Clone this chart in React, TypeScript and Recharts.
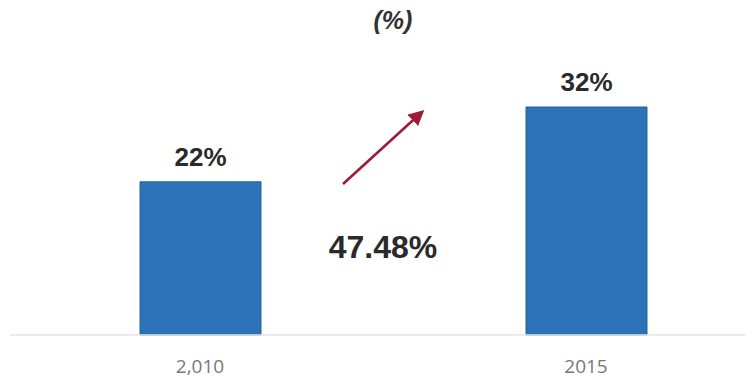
import React from 'react'
import { BarChart, Bar, XAxis, YAxis, LabelList } from 'recharts'

const years = ['2,010', '2015']
const shares = [21.5, 32]
const growthLabel = '47.48%'
const unitTitle = '(%)'

const data = years.map((year, i) => ({ year, share: shares[i] }))

const W = 754
const H = 380

export default function App() {
  return (
    <div style={{ position: 'fixed', left: 0, top: 0, width: W, height: H, background: '#fff', overflow: 'hidden' }}>
      <div
        style={{
          position: 'absolute',
          left: 0,
          width: W,
          top: 6,
          textAlign: 'center',
          fontFamily: '"Liberation Sans", Arial, sans-serif',
          fontStyle: 'italic',
          fontWeight: 600,
          fontSize: 25,
          color: '#333',
          paddingLeft: 32,
          boxSizing: 'border-box',
        }}
      >
        {unitTitle}
      </div>
      <BarChart
        width={W}
        height={H}
        data={data}
        margin={{ top: 50, right: 9, left: 10, bottom: 0 }}
        style={{ position: 'absolute', left: 0, top: 0 }}
      >
        <XAxis
          dataKey="year"
          padding={{ left: -3, right: -34 }}
          axisLine={{ stroke: '#e4e4e4', strokeWidth: 1.5 }}
          tickLine={false}
          tickSize={0}
          tickMargin={25}
          height={45}
          tick={{ fill: '#777', fontSize: 19, fontFamily: '"Open Sans", sans-serif' }}
        />
        <YAxis hide domain={[0, 40]} />
        <Bar dataKey="share" fill="#2b73b6" stroke="#22639f" strokeWidth={1} barSize={121} isAnimationActive={false}>
          <LabelList
            dataKey="share"
            position="top"
            offset={16}
            formatter={(v: any) => `${Math.round(Number(v))}%`}
            style={{ fill: '#2a2a2a', fontSize: 26, fontWeight: 700, fontFamily: '"Liberation Sans", Arial, sans-serif' }}
          />
        </Bar>
      </BarChart>
      <svg width={W} height={H} style={{ position: 'absolute', left: 0, top: 0, pointerEvents: 'none' }}>
        <defs>
          <marker id="head" viewBox="0 0 10 10" refX="8" refY="5" markerWidth="6" markerHeight="6" orient="auto">
            <path d="M0,0 L10,5 L0,10 z" fill="#9e1b36" />
          </marker>
        </defs>
        <line x1={343} y1={184} x2={422} y2={112} stroke="#9e1b36" strokeWidth={2.6} markerEnd="url(#head)" />
        <text
          x={383}
          y={258}
          textAnchor="middle"
          fill="#2a2a2a"
          fontSize={32}
          fontWeight={700}
          fontFamily='"Liberation Sans", Arial, sans-serif'
        >
          {growthLabel}
        </text>
      </svg>
    </div>
  )
}
